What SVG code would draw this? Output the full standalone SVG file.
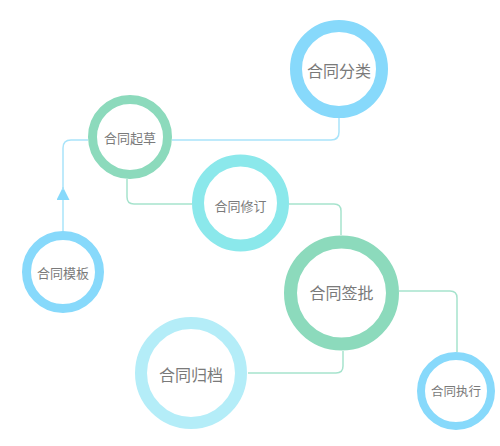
<svg xmlns="http://www.w3.org/2000/svg" width="500" height="446" viewBox="0 0 500 446">
<style>
.lbl{font-family:"Liberation Sans","Noto Sans CJK SC",sans-serif;fill:#7a7a7a;text-anchor:middle;dominant-baseline:central}
.ring{fill:#fff}
.blue{stroke:#87d9fb}
.green{stroke:#8cdabc}
.cyan{stroke:#8be8eb}
.pale{stroke:#b4edf8}
.cb{fill:none;stroke:#a9e4fa;stroke-width:1.5}
.cg{fill:none;stroke:#a6e3cd;stroke-width:1.5}
</style>
<defs>
<marker id="arr" markerWidth="14" markerHeight="14" refX="13" refY="6.5" orient="auto" markerUnits="userSpaceOnUse">
<path d="M0,0 L13,6.5 L0,13 Z" fill="#87d9fb"/>
</marker>
</defs>
<rect width="500" height="446" fill="#fff"/>
<g id="connectors">
<path class="cb" d="M339,118 V132 Q339,140 331,140 H172"/>
<path class="cb" d="M63,232 V187" marker-end="url(#arr)"/>
<path class="cb" d="M63,190 V148 Q63,140 71,140 H88"/>
<path class="cg" d="M127,179 V197 Q127,204 134,204 H192"/>
<path class="cg" d="M289,204 H334 Q341,204 341,211 V235"/>
<path class="cg" d="M399,291 H450 Q457,291 457,298 V352"/>
<path class="cg" d="M343,351 V366 Q343,373 336,373 H248"/>
</g>
<g id="n-fenlei">
<circle class="ring blue" cx="339" cy="69" r="43" stroke-width="12"/>
<text class="lbl" x="339" y="71" font-size="16">合同分类</text>
</g>
<g id="n-qicao">
<circle class="ring green" cx="130" cy="137" r="37.5" stroke-width="9"/>
<text class="lbl" x="130" y="138" font-size="13">合同起草</text>
</g>
<g id="n-muban">
<circle class="ring blue" cx="63" cy="272" r="36.5" stroke-width="9"/>
<text class="lbl" x="63" y="273" font-size="13">合同模板</text>
</g>
<g id="n-xiuding">
<circle class="ring cyan" cx="240.5" cy="203" r="42.5" stroke-width="12"/>
<text class="lbl" x="240.5" y="206" font-size="13">合同修订</text>
</g>
<g id="n-qianpi">
<circle class="ring green" cx="341.5" cy="293" r="51" stroke-width="13"/>
<text class="lbl" x="341.5" y="293" font-size="16">合同签批</text>
</g>
<g id="n-guidang">
<circle class="ring pale" cx="191" cy="373" r="50" stroke-width="12"/>
<text class="lbl" x="191" y="375" font-size="16">合同归档</text>
</g>
<g id="n-zhixing">
<circle class="ring blue" cx="456" cy="391" r="35" stroke-width="8"/>
<text class="lbl" x="456" y="392" font-size="12.5">合同执行</text>
</g>
</svg>
